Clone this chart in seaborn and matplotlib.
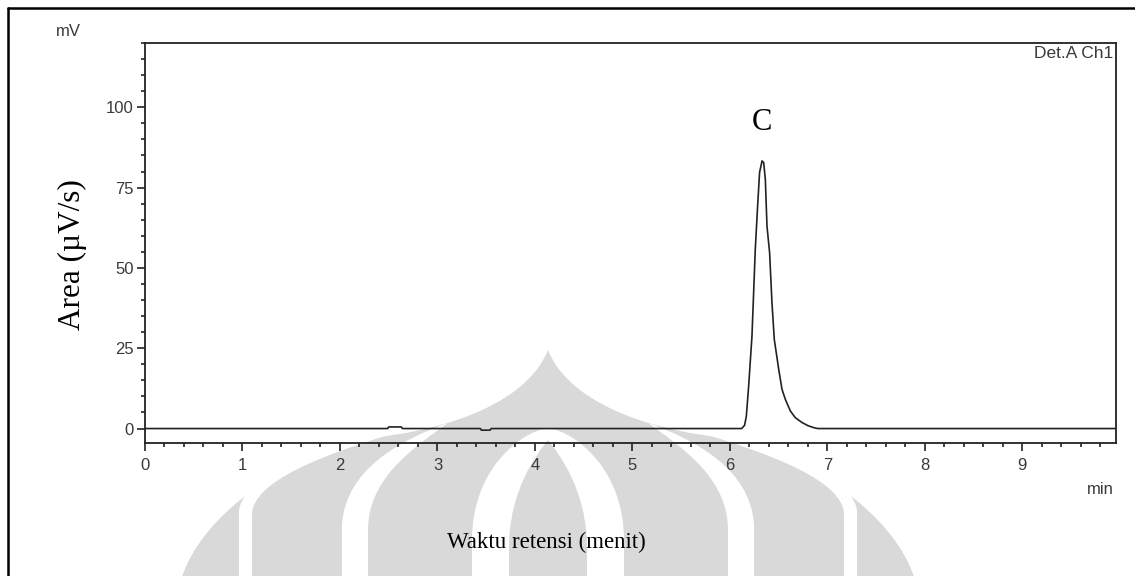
import matplotlib
matplotlib.use("Agg")
import matplotlib.pyplot as plt
import seaborn as sns
from matplotlib.ticker import MultipleLocator
from matplotlib.lines import Line2D
from matplotlib.path import Path
from matplotlib.patches import PathPatch

# ---- data ----
time_min = [0.00, 2.49, 2.50, 2.63, 2.64, 3.44, 3.45, 3.54, 3.55,
            6.120, 6.150, 6.168, 6.192, 6.226, 6.243, 6.260, 6.284, 6.304, 6.329,
            6.346, 6.363, 6.380, 6.407, 6.431, 6.455, 6.483, 6.500, 6.534,
            6.568, 6.619, 6.670, 6.738, 6.800, 6.857, 6.900, 9.96]
signal_mv = [0.0, 0.0, 0.5, 0.5, 0.0, 0.0, -0.5, -0.5, 0.0,
             0.0, 1.0, 3.8, 13.2, 28.8, 42.3, 55.8, 69.3, 79.7, 83.3,
             82.8, 77.6, 63.0, 54.7, 39.2, 27.7, 22.0, 18.5, 12.2,
             9.1, 5.5, 3.4, 1.9, 0.9, 0.3, 0.0, 0.0]
x_ticks = [0, 1, 2, 3, 4, 5, 6, 7, 8, 9]
y_ticks = [0, 25, 50, 75, 100]
peak_label = "C"
peak_time = 6.33
peak_height = 83.3

W, H = 1135, 576

sns.set_theme(style="ticks")
plt.rcParams['font.family'] = ['Liberation Sans', 'DejaVu Sans']

fig = plt.figure(figsize=(W / 100, H / 100), dpi=100)


# ---- faint background watermark (decoration of the scanned page) ----
def wm_shape(segments, color):
    """segments: list of (code, points) in pixel coords (y from top)."""
    verts, codes = [], []
    for code, pts in segments:
        for i, (px, py) in enumerate(pts):
            verts.append((px / W, 1 - py / H))
            if code == 'M':
                codes.append(Path.MOVETO)
            elif code == 'L':
                codes.append(Path.LINETO)
            elif code == 'C':
                codes.append(Path.CURVE4)
    verts.append(verts[0])
    codes.append(Path.CLOSEPOLY)
    p = PathPatch(Path(verts, codes), transform=fig.transFigure,
                  facecolor=color, edgecolor='none', zorder=-5)
    fig.add_artist(p)


def mirror(segments, cx=548):
    out = []
    for code, pts in segments:
        out.append((code, [(2 * cx - x, y) for x, y in pts]))
    return out


GRAY = "#d9d9d9"
WHITE = "white"
# outer silhouette
wm_shape([('M', [(181, 580)]),
          ('C', [(200, 515), (290, 448), (400, 434)]),
          ('C', [(470, 422), (530, 395), (548, 350)]),
          ('C', [(566, 395), (626, 422), (696, 434)]),
          ('C', [(806, 448), (896, 515), (915, 580)])], GRAY)
gap1 = [('M', [(239, 580)]), ('L', [(239, 512)]),
        ('C', [(240, 478), (320, 446), (405, 430)]),
        ('C', [(320, 455), (252, 482), (252, 515)]), ('L', [(252, 580)])]
gap2 = [('M', [(342, 580)]), ('L', [(342, 525)]),
        ('C', [(345, 470), (400, 440), (448, 423)]),
        ('C', [(410, 450), (368, 480), (368, 530)]), ('L', [(368, 580)])]
for g in (gap1, gap2):
    wm_shape(g, WHITE)
    wm_shape(mirror(g), WHITE)
# central lens and stem
wm_shape([('M', [(472, 580)]), ('L', [(472, 540)]),
          ('C', [(472, 470), (520, 432), (548, 428)]),
          ('C', [(576, 432), (624, 470), (624, 540)]), ('L', [(624, 580)])], WHITE)
wm_shape([('M', [(509, 580)]), ('L', [(509, 545)]),
          ('C', [(510, 490), (536, 455), (548, 440)]),
          ('C', [(560, 455), (586, 490), (587, 545)]), ('L', [(587, 580)])], GRAY)

# ---- chart ----
ax = fig.add_axes([145 / W, 1 - 443 / H, (1116 - 145) / W, (443 - 43) / H])
ax.patch.set_alpha(0)

sns.lineplot(x=time_min, y=signal_mv, ax=ax, color="#222222", linewidth=1.2,
             estimator=None, sort=False)

ax.set_xlim(0, 9.96)
ax.set_ylim(-4.5, 120)
ax.set_xticks(x_ticks)
ax.set_yticks(y_ticks)
ax.xaxis.set_minor_locator(MultipleLocator(0.2))
ax.yaxis.set_minor_locator(MultipleLocator(5))
tick_col = "#3a3a3a"
ax.tick_params(axis='both', which='major', length=5.8, width=1.2, color="#222222",
               labelsize=12, labelcolor=tick_col)
ax.tick_params(axis='y', which='major', pad=2.5)
ax.tick_params(axis='x', which='major', pad=5)
ax.tick_params(axis='both', which='minor', length=3, width=1.2, color="#222222")
for s in ax.spines.values():
    s.set_linewidth(1.3)
    s.set_color("#222222")
ax.set_xlabel("")
ax.set_ylabel("")

fig.text(1113 / W, 1 - 54 / H, "Det.A Ch1", ha='right', va='center',
         fontsize=12.5, color=tick_col)
fig.text(68 / W, 1 - 32 / H, "mV", ha='center', va='center', fontsize=12, color=tick_col)
fig.text(1100 / W, 1 - 489 / H, "min", ha='center', va='center', fontsize=12, color=tick_col)

ax.annotate(peak_label, xy=(peak_time, peak_height), xytext=(0, 28),
            textcoords='offset points', ha='center', va='center',
            fontsize=22, family='Liberation Serif', color='black')

fig.text(546 / W, 1 - 542 / H, "Waktu retensi (menit)", ha='center', va='center',
         fontsize=16.5, family='Liberation Serif', color='black')
fig.text(72 / W, 1 - 255 / H, "Area (µV/s)", ha='center', va='center', rotation=90,
         fontsize=22.5, family='Liberation Serif', color='black')

# outer frame (left and top edges visible)
fig.add_artist(Line2D([8 / W, 8 / W], [0, 1 - 8 / H], transform=fig.transFigure,
                      color='black', linewidth=1.8))
fig.add_artist(Line2D([8 / W, 1], [1 - 8 / H, 1 - 8 / H], transform=fig.transFigure,
                      color='black', linewidth=1.8))

fig.savefig("out.png", dpi=100)
